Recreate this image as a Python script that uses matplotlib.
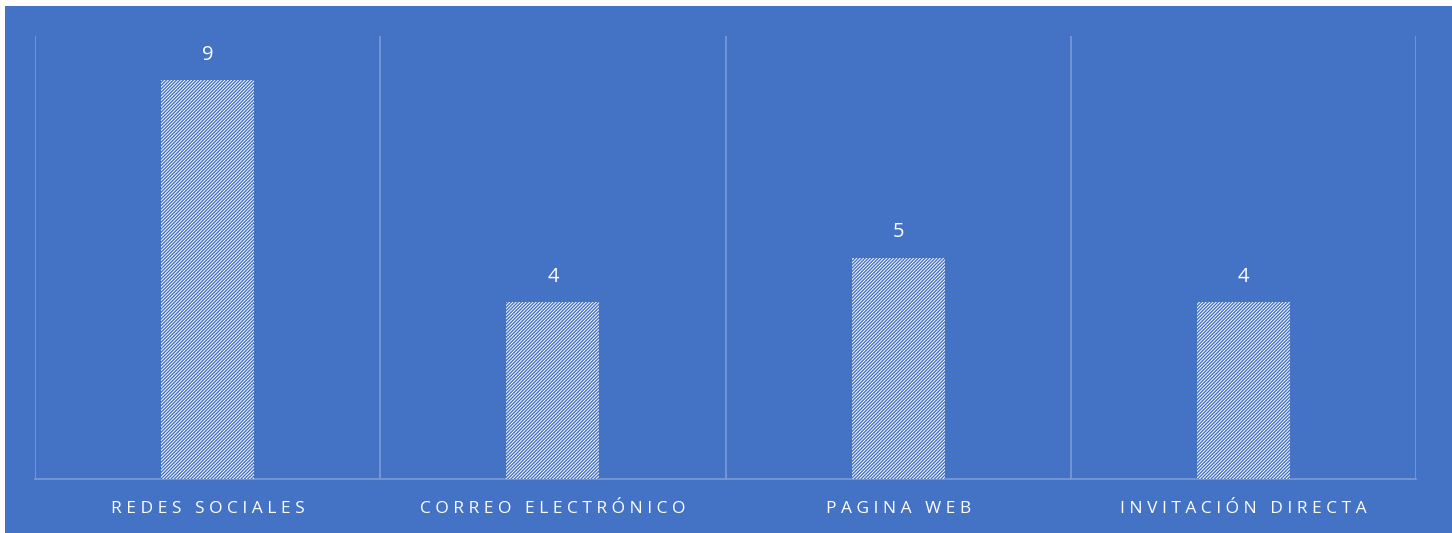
"""Bar chart: channels through which participants heard about the event."""

import matplotlib.pyplot as plt
from matplotlib.patches import Rectangle

CATEGORIES = ["REDES SOCIALES", "CORREO ELECTRÓNICO", "PAGINA WEB", "INVITACIÓN DIRECTA"]
VALUES = [9, 4, 5, 4]

COLORS = {
    "bg": "#4472C4",
    "grid": "#7C9BD8",
    "text": "#FFFFFF",
}


def spaced(label: str) -> str:
    """Mimic the wide letter spacing of the original labels."""
    return "   ".join(" ".join(word) for word in label.split(" "))


W, H = 1452, 533
fig = plt.figure(figsize=(W / 100, H / 100), dpi=100, facecolor="white")
fig.patches.append(
    Rectangle((5 / W, 0), 1, (H - 6) / H, transform=fig.transFigure,
              facecolor=COLORS["bg"], edgecolor="none", zorder=-10)
)

ax = fig.add_axes([35 / W, 1 - 479 / H, (1416 - 35) / W, (479 - 36) / H])
ax.set_facecolor("none")

plt.rcParams["hatch.linewidth"] = 1.0
x = range(len(CATEGORIES))
bars = ax.bar(x, VALUES, width=0.27, facecolor="white", edgecolor=COLORS["bg"],
              hatch="/" * 10, linewidth=0, zorder=3)

for bar, v in zip(bars, VALUES):
    ax.annotate(str(v), (bar.get_x() + bar.get_width() / 2, v),
                xytext=(0, 11), textcoords="offset points",
                ha="center", va="bottom", color=COLORS["text"],
                fontsize=14.5, family="Open Sans")

ax.set_xlim(-0.5, len(CATEGORIES) - 0.5)
ax.set_ylim(0, 10)
ax.set_yticks([])
ax.set_xticks(list(x))
ax.set_xticklabels([spaced(c) for c in CATEGORIES], color=COLORS["text"],
                   fontsize=12.5, family="Open Sans")
ax.tick_params(axis="x", length=0, pad=16)

ax.set_xticks([i - 0.5 for i in range(len(CATEGORIES) + 1)], minor=True)
ax.tick_params(axis="x", which="minor", length=0)
ax.grid(True, axis="x", which="minor", color=COLORS["grid"], linewidth=1.2, zorder=0)
ax.grid(False, axis="x", which="major")

for side in ["top", "left", "right"]:
    ax.spines[side].set_visible(False)
ax.spines["bottom"].set_color(COLORS["grid"])
ax.spines["bottom"].set_linewidth(1.2)

fig.savefig("out.png", dpi=100, facecolor=fig.get_facecolor())
